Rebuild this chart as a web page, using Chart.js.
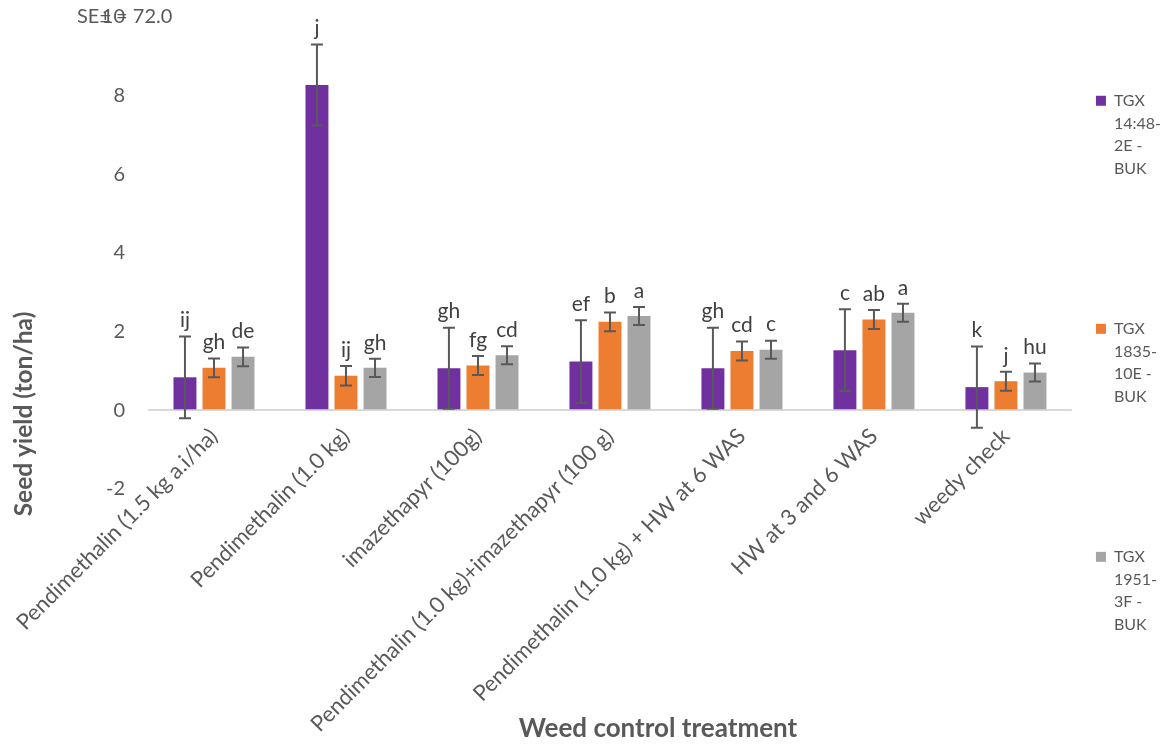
<!DOCTYPE html>
<html>
<head>
<meta charset="utf-8">
<script src="https://cdn.jsdelivr.net/npm/chart.js@4.4.1/dist/chart.umd.min.js"></script>
<style>
  html, body { margin: 0; padding: 0; background: #ffffff; }
  #wrap { width: 1164px; height: 746px; position: relative; }
</style>
</head>
<body>
<div id="wrap"><canvas id="c" width="1164" height="746"></canvas></div>
<script>
// ---- data ----
const categories = [
  'Pendimethalin (1.5 kg a.i/ha)',
  'Pendimethalin (1.0 kg)',
  'imazethapyr (100g)',
  'Pendimethalin (1.0 kg)+imazethapyr (100 g)',
  'Pendimethalin (1.0 kg) + HW at 6 WAS',
  'HW at 3 and 6 WAS',
  'weedy check'
];
const seriesNames = ['TGX 14:48-2E - BUK', 'TGX 1835-10E - BUK', 'TGX 1951-3F - BUK'];
const legendLines = [['TGX', '14:48-', '2E -', 'BUK'], ['TGX', '1835-', '10E -', 'BUK'], ['TGX', '1951-', '3F -', 'BUK']];

const tgx1448 = [0.84, 8.27, 1.07, 1.24, 1.07, 1.53, 0.59];
const tgx1448Err = [1.04, 1.03, 1.03, 1.05, 1.03, 1.04, 1.03];
const tgx1448Letters = ['ij', 'j', 'gh', 'ef', 'gh', 'c', 'k'];

const tgx1835 = [1.08, 0.88, 1.14, 2.25, 1.51, 2.31, 0.74];
const tgx1835Err = [0.24, 0.25, 0.24, 0.24, 0.24, 0.24, 0.24];
const tgx1835Letters = ['gh', 'ij', 'fg', 'b', 'cd', 'ab', 'j'];

const tgx1951 = [1.36, 1.08, 1.40, 2.40, 1.54, 2.48, 0.96];
const tgx1951Err = [0.24, 0.23, 0.23, 0.23, 0.23, 0.23, 0.23];
const tgx1951Letters = ['de', 'gh', 'cd', 'a', 'c', 'a', 'hu'];

const yMin = -2, yMax = 10, yStep = 2;
const seText = 'SE\u00B1 = 72.0';
const xTitle = 'Weed control treatment';
const yTitle = 'Seed yield (ton/ha)';

// ---- styles ----
const colors = ['#7030a0', '#ed7d31', '#a5a5a5'];
const FONT = 'Lato, "Open Sans", sans-serif';
const textGrey = '#595959';

const errorBarsPlugin = {
  id: 'errorBars',
  afterDatasetsDraw(chart) {
    const ctx = chart.ctx;
    const y = chart.scales.y;
    chart.data.datasets.forEach((ds, di) => {
      const meta = chart.getDatasetMeta(di);
      meta.data.forEach((bar, i) => {
        const v = ds.data[i], e = ds.errors[i];
        const yt = y.getPixelForValue(v + e);
        const yb = y.getPixelForValue(v - e);
        ctx.save();
        ctx.strokeStyle = '#595959';
        ctx.lineWidth = 2;
        ctx.beginPath();
        ctx.moveTo(bar.x, yt); ctx.lineTo(bar.x, yb);
        ctx.moveTo(bar.x - 6, yt); ctx.lineTo(bar.x + 6, yt);
        ctx.moveTo(bar.x - 6, yb); ctx.lineTo(bar.x + 6, yb);
        ctx.stroke();
        ctx.fillStyle = '#404040';
        ctx.font = '21px ' + FONT;
        ctx.textAlign = 'center';
        ctx.textBaseline = 'middle';
        ctx.fillText(ds.letters[i], bar.x, yt - 16);
        ctx.restore();
      });
    });
  }
};

const textsPlugin = {
  id: 'freeTexts',
  afterDraw(chart) {
    const ctx = chart.ctx;
    const ca = chart.chartArea;
    ctx.save();
    ctx.fillStyle = textGrey;
    ctx.textBaseline = 'middle';
    ctx.font = '20px ' + FONT;
    ctx.textAlign = 'left';
    ctx.fillText(seText, ca.left - 71, ca.top);
    ctx.font = 'bold 26px ' + FONT;
    ctx.textAlign = 'center';
    ctx.fillText(xTitle, ca.left + 510, 729);
    ctx.font = 'bold 24.5px ' + FONT;
    ctx.translate(24, 414);
    ctx.rotate(-Math.PI / 2);
    ctx.fillText(yTitle, 0, 0);
    ctx.restore();
  }
};

const datasets = [
  {label: seriesNames[0], data: tgx1448, errors: tgx1448Err, letters: tgx1448Letters, backgroundColor: colors[0]},
  {label: seriesNames[1], data: tgx1835, errors: tgx1835Err, letters: tgx1835Letters, backgroundColor: colors[1]},
  {label: seriesNames[2], data: tgx1951, errors: tgx1951Err, letters: tgx1951Letters, backgroundColor: colors[2]}
];

new Chart(document.getElementById('c'), {
  type: 'bar',
  data: {labels: categories, datasets: datasets},
  plugins: [errorBarsPlugin, textsPlugin],
  options: {
    responsive: false,
    animation: false,
    devicePixelRatio: 1,
    layout: {padding: {top: 9, right: -7, bottom: 0, left: 0}},
    datasets: {bar: {categoryPercentage: 0.66, barPercentage: 0.79}},
    plugins: {
      tooltip: {enabled: false},
      legend: {
        position: 'right',
        align: 'center',
        labels: {
          boxWidth: 10,
          boxHeight: 10,
          padding: 24,
          color: textGrey,
          font: {family: FONT, size: 16, lineHeight: 1.417},
          generateLabels(chart) {
            const items = Chart.defaults.plugins.legend.labels.generateLabels(chart);
            items.forEach((it, i) => {
              const lines = legendLines[i].slice();
              const extra = i < items.length - 1 ? 5 : 1;
              for (let k = 0; k < extra; k++) lines.push('');
              it.text = lines;
              it.strokeStyle = it.fillStyle;
              it.lineWidth = 0;
            });
            return items;
          }
        }
      }
    },
    scales: {
      x: {
        position: {y: 0},
        grid: {display: false, drawTicks: false},
        border: {display: false},
        ticks: {
          autoSkip: false,
          minRotation: 45,
          maxRotation: 45,
          padding: 13,
          color: textGrey,
          font: {family: FONT, size: 22}
        },
        afterFit(scale) { scale.paddingLeft = 0; scale.paddingRight = 0; }
      },
      xSpace: {
        type: 'category',
        axis: 'x',
        position: 'bottom',
        grid: {display: false, drawTicks: false},
        border: {display: false},
        ticks: {display: false},
        afterFit(scale) { scale.height = 257; }
      },
      y: {
        min: yMin,
        max: yMax,
        ticks: {stepSize: yStep, padding: 5, color: textGrey, font: {family: FONT, size: 20}},
        grid: {
          drawTicks: true,
          tickLength: 18,
          tickColor: 'rgba(0,0,0,0)',
          lineWidth: 2,
          color: (c) => (c.tick && c.tick.value === 0) ? '#d9d9d9' : 'rgba(0,0,0,0)'
        },
        border: {display: false},
        afterFit(scale) { scale.width = 148; }
      }
    }
  }
});
</script>
</body>
</html>
